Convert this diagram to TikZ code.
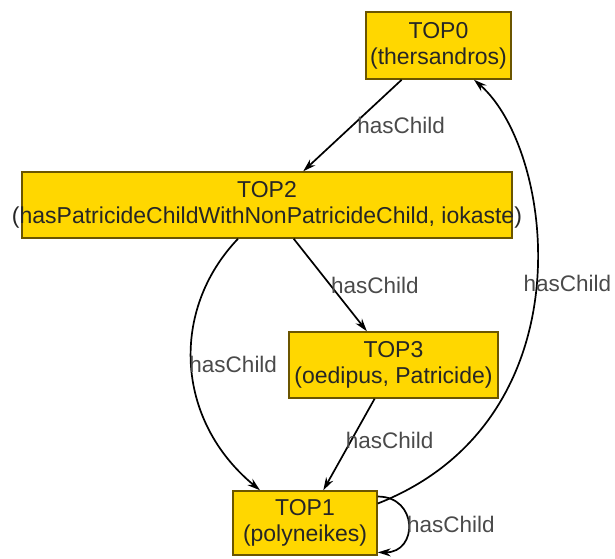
\documentclass[tikz,border=0pt]{standalone}
\usepackage{fontspec}
\setmainfont{Liberation Sans}
\usetikzlibrary{arrows.meta}
\definecolor{nodefill}{HTML}{FFD700}
\definecolor{nodedraw}{HTML}{6B5500}
\definecolor{labelgray}{HTML}{4A4A4A}
\tikzset{
  VertexStyle/.style = { rectangle, draw=nodedraw, fill=nodefill,
                         line width=1.5pt, inner sep=0pt, align=center,
                         text=black!85, font=\fontsize{23}{26}\selectfont },
  EdgeStyle/.style = { -{Stealth[length=13pt,width=8pt]}, line width=1.7pt },
  LabelStyle/.style = { text=labelgray, inner sep=0pt,
                        font=\fontsize{22.5}{26}\selectfont } }

\begin{document}
\begin{tikzpicture}[x=1pt,y=-1pt]
  \useasboundingbox (0,0) rectangle (615,558);
  \node[VertexStyle, minimum width=145pt, minimum height=67pt](TOP0) at (438.5,45.5) {TOP0\\(thersandros)};
  \node[VertexStyle, minimum width=490pt, minimum height=66pt](TOP2) at (267,205) {TOP2\\\makebox[0pt]{(hasPatricideChildWithNonPatricideChild, iokaste)}};
  \node[VertexStyle, minimum width=209pt, minimum height=66pt](TOP3) at (393.5,365) {TOP3\\(oedipus, Patricide)};
  \node[VertexStyle, minimum width=144pt, minimum height=64pt](TOP1) at (305,523) {TOP1\\(polyneikes)};

  \draw[EdgeStyle] (TOP0) -- node[LabelStyle, anchor=west, xshift=4pt]{hasChild} (TOP2);
  \draw[EdgeStyle] (TOP2) -- node[LabelStyle, anchor=west]{hasChild} (TOP3);
  \draw[EdgeStyle] (TOP3) -- node[LabelStyle, anchor=west, xshift=-4pt, yshift=4pt]{hasChild} (TOP1);
  \draw[EdgeStyle] ([xshift=-29pt]TOP2.south) .. controls (170,310) and (175,420) ..
    node[LabelStyle, anchor=west, xshift=-3pt]{hasChild} ([xshift=-45pt]TOP1.north);
  \draw[EdgeStyle] (TOP1.15) .. controls (590,420) and (555,150) ..
    node[LabelStyle, anchor=west, xshift=-13pt, yshift=3pt]{hasChild} ([xshift=35.5pt]TOP0.south);
  \draw[EdgeStyle] (TOP1.20) to[out=0, in=0, looseness=1.86]
    node[LabelStyle, anchor=west, xshift=-2pt]{hasChild} (TOP1.-22);
\end{tikzpicture}
\end{document}
